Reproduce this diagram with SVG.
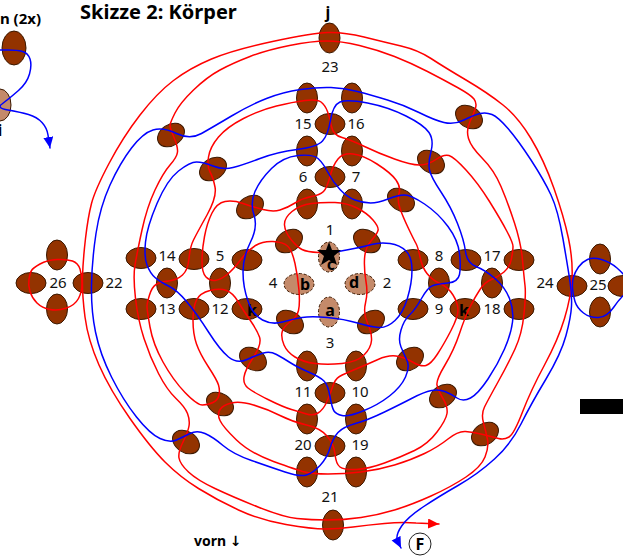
<svg xmlns="http://www.w3.org/2000/svg" width="623" height="557" viewBox="0 0 623 557">
<style>
.n{fill:#933300;stroke:#3a1800;stroke-width:1}
.l{fill:#c48a6a;stroke:#3a1800;stroke-width:1;stroke-dasharray:3 2}
.t{font-family:"Noto Sans","DejaVu Sans",sans-serif;font-size:15px;fill:#111;text-anchor:middle}
.b{font-family:"Noto Sans","DejaVu Sans",sans-serif;font-weight:700;font-size:16px;fill:#000;text-anchor:middle}
.w{fill:none;stroke-width:1.5;stroke-linejoin:round;stroke-linecap:round}
.r{stroke:#f00}
.u{stroke:#00f}
</style>
<defs>
<marker id="ar" markerUnits="userSpaceOnUse" markerWidth="12" markerHeight="11" refX="11" refY="5" orient="auto"><path d="M0 0L11 5L0 10z" fill="#f00"/></marker>
<marker id="au" markerUnits="userSpaceOnUse" markerWidth="12" markerHeight="11" refX="11" refY="5" orient="auto"><path d="M0 0L11 5L0 10z" fill="#00f"/></marker>
</defs>
<rect width="623" height="557" fill="#fff"/>
<rect x="580" y="399" width="43" height="15" fill="#000"/>
<text x="80" y="19" font-family="'Noto Sans',sans-serif" font-weight="700" font-size="20" fill="#000">Skizze 2: Körper</text>
<text x="41" y="24" font-family="'Noto Sans',sans-serif" font-weight="700" font-size="15" fill="#000" text-anchor="end">n (2x)</text>
<text x="194" y="546" font-family="'Noto Sans','DejaVu Sans',sans-serif" font-weight="700" font-size="14" fill="#000">vorn ↓</text>
<g id="node-F"><circle cx="420" cy="544" r="11" fill="#fff" stroke="#222"/><text x="420" y="550" class="b">F</text></g>
<g id="node-n"><ellipse class="n" cx="14" cy="48" rx="12" ry="17"/></g>
<g id="node-i"><ellipse class="l" cx="0" cy="105" rx="11" ry="16" style="stroke-dasharray:none"/><text x="0" y="136" class="b">i</text></g>
<g id="node-j"><ellipse class="n" cx="329.5" cy="38" rx="10.5" ry="15"/><text x="328" y="18" class="b">j</text></g>
<g id="node-23"><text x="330" y="72" class="t">23</text></g>
<g id="node-15"><ellipse class="n" cx="307" cy="98" rx="10.5" ry="15"/><text x="303" y="129" class="t">15</text></g>
<g id="node-16"><ellipse class="n" cx="352" cy="98" rx="10.5" ry="15"/><text x="356" y="129" class="t">16</text></g>
<g id="node-h1"><ellipse class="n" cx="330" cy="124" rx="15" ry="10.5"/></g>
<g id="node-6"><ellipse class="n" cx="307" cy="151" rx="10.5" ry="15"/><text x="303" y="182" class="t">6</text></g>
<g id="node-7"><ellipse class="n" cx="352" cy="151" rx="10.5" ry="15"/><text x="356" y="182" class="t">7</text></g>
<g id="node-h2"><ellipse class="n" cx="330" cy="177" rx="15" ry="10.5"/></g>
<g id="node-v1"><ellipse class="n" cx="307" cy="204" rx="10.5" ry="15"/></g>
<g id="node-v2"><ellipse class="n" cx="352" cy="204" rx="10.5" ry="15"/></g>
<g id="node-1"><text x="330" y="235" class="t">1</text></g>
<g id="node-c"><ellipse class="l" cx="329" cy="257" rx="10.5" ry="15"/><text x="331" y="270" class="b">c</text></g>
<g id="node-b"><ellipse class="l" cx="299" cy="284" rx="15" ry="10.5"/><text x="305" y="290" class="b">b</text></g>
<g id="node-d"><ellipse class="l" cx="360" cy="284" rx="15" ry="10.5"/><text x="354" y="288" class="b">d</text></g>
<g id="node-a"><ellipse class="l" cx="329" cy="312" rx="10.5" ry="15"/><text x="330" y="316" class="b">a</text></g>
<g id="node-2"><text x="387" y="288" class="t">2</text></g>
<g id="node-3"><text x="330" y="348" class="t">3</text></g>
<g id="node-4"><text x="273" y="288" class="t">4</text></g>
<g id="node-d1"><ellipse class="n" cx="289" cy="241" rx="14.5" ry="10.5" transform="rotate(-33 289 241)"/></g>
<g id="node-d2"><ellipse class="n" cx="367" cy="241" rx="14.5" ry="10.5" transform="rotate(33 367 241)"/></g>
<g id="node-d3"><ellipse class="n" cx="290" cy="322" rx="14.5" ry="10.5" transform="rotate(33 290 322)"/></g>
<g id="node-d4"><ellipse class="n" cx="371" cy="322" rx="14.5" ry="10.5" transform="rotate(-33 371 322)"/></g>
<g id="node-d5"><ellipse class="n" cx="171" cy="135" rx="14.5" ry="10.5" transform="rotate(-33 171 135)"/></g>
<g id="node-d6"><ellipse class="n" cx="213" cy="169" rx="14.5" ry="10.5" transform="rotate(-33 213 169)"/></g>
<g id="node-d7"><ellipse class="n" cx="250" cy="207" rx="14.5" ry="10.5" transform="rotate(-33 250 207)"/></g>
<g id="node-d8"><ellipse class="n" cx="469" cy="117" rx="14.5" ry="10.5" transform="rotate(33 469 117)"/></g>
<g id="node-d9"><ellipse class="n" cx="431" cy="162" rx="14.5" ry="10.5" transform="rotate(33 431 162)"/></g>
<g id="node-d10"><ellipse class="n" cx="401" cy="200" rx="14.5" ry="10.5" transform="rotate(33 401 200)"/></g>
<g id="node-d11"><ellipse class="n" cx="410" cy="359" rx="14.5" ry="10.5" transform="rotate(-33 410 359)"/></g>
<g id="node-d12"><ellipse class="n" cx="443" cy="396" rx="14.5" ry="10.5" transform="rotate(-33 443 396)"/></g>
<g id="node-d13"><ellipse class="n" cx="485" cy="434" rx="14.5" ry="10.5" transform="rotate(-33 485 434)"/></g>
<g id="node-d14"><ellipse class="n" cx="253" cy="359" rx="14.5" ry="10.5" transform="rotate(33 253 359)"/></g>
<g id="node-d15"><ellipse class="n" cx="220" cy="404" rx="14.5" ry="10.5" transform="rotate(33 220 404)"/></g>
<g id="node-d16"><ellipse class="n" cx="186" cy="442" rx="14.5" ry="10.5" transform="rotate(33 186 442)"/></g>
<g id="node-14"><ellipse class="n" cx="141" cy="258" rx="15" ry="10.5"/><text x="167" y="261" class="t">14</text></g>
<g id="node-5"><ellipse class="n" cx="194" cy="259" rx="15" ry="10.5"/><text x="220" y="261" class="t">5</text></g>
<g id="node-h3"><ellipse class="n" cx="247" cy="260" rx="15" ry="10.5"/></g>
<g id="node-8"><ellipse class="n" cx="413" cy="260" rx="15" ry="10.5"/><text x="439" y="261" class="t">8</text></g>
<g id="node-17"><ellipse class="n" cx="466" cy="260" rx="15" ry="10.5"/><text x="492" y="261" class="t">17</text></g>
<g id="node-h4"><ellipse class="n" cx="519" cy="260" rx="15" ry="10.5"/></g>
<g id="node-13"><ellipse class="n" cx="141" cy="309" rx="15" ry="10.5"/><text x="167" y="314" class="t">13</text></g>
<g id="node-12"><ellipse class="n" cx="194" cy="309" rx="15" ry="10.5"/><text x="220" y="314" class="t">12</text></g>
<g id="node-k1"><ellipse class="n" cx="247" cy="309" rx="15" ry="10.5"/><text x="252" y="316" class="b">k</text></g>
<g id="node-9"><ellipse class="n" cx="413" cy="309" rx="15" ry="10.5"/><text x="439" y="314" class="t">9</text></g>
<g id="node-k2"><ellipse class="n" cx="465" cy="309" rx="15" ry="10.5"/><text x="464" y="316" class="b">k</text></g>
<g id="node-18"><ellipse class="n" cx="519" cy="309" rx="15" ry="10.5"/><text x="492" y="314" class="t">18</text></g>
<g id="node-m1"><ellipse class="n" cx="167" cy="283" rx="10.5" ry="15"/></g>
<g id="node-m2"><ellipse class="n" cx="220" cy="283" rx="10.5" ry="15"/></g>
<g id="node-m3"><ellipse class="n" cx="439" cy="283" rx="10.5" ry="15"/></g>
<g id="node-m4"><ellipse class="n" cx="492" cy="283" rx="10.5" ry="15"/></g>
<g id="node-b1"><ellipse class="n" cx="307" cy="366" rx="10.5" ry="15"/></g>
<g id="node-10"><ellipse class="n" cx="356" cy="366" rx="10.5" ry="15"/><text x="360" y="397" class="t">10</text></g>
<g id="node-11"><ellipse class="n" cx="330" cy="393" rx="15" ry="10.5"/><text x="303" y="397" class="t">11</text></g>
<g id="node-b2"><ellipse class="n" cx="307" cy="419" rx="10.5" ry="15"/></g>
<g id="node-b3"><ellipse class="n" cx="356" cy="419" rx="10.5" ry="15"/></g>
<g id="node-20"><ellipse class="n" cx="330" cy="446" rx="15" ry="10.5"/><text x="303" y="450" class="t">20</text><text x="360" y="450" class="t">19</text></g>
<g id="node-b4"><ellipse class="n" cx="307" cy="472" rx="10.5" ry="15"/></g>
<g id="node-19"><ellipse class="n" cx="356" cy="472" rx="10.5" ry="15"/></g>
<g id="node-21"><ellipse class="n" cx="333" cy="525" rx="10.5" ry="15"/><text x="330" y="502" class="t">21</text></g>
<g id="node-22"><ellipse class="n" cx="88" cy="283" rx="15" ry="10.5"/><text x="114" y="288" class="t">22</text></g>
<g id="node-26"><ellipse class="n" cx="31" cy="283" rx="15" ry="10.5"/><ellipse class="n" cx="57" cy="255" rx="10.5" ry="15"/><ellipse class="n" cx="57" cy="309" rx="10.5" ry="15"/><text x="58" y="288" class="t">26</text></g>
<g id="node-24"><ellipse class="n" cx="572" cy="286" rx="15" ry="10.5"/><text x="545" y="288" class="t">24</text></g>
<g id="node-25"><ellipse class="n" cx="600" cy="259" rx="10.5" ry="15"/><ellipse class="n" cx="600" cy="312" rx="10.5" ry="15"/><ellipse class="n" cx="623" cy="286" rx="15" ry="10.5"/><text x="598" y="290" class="t">25</text></g>
<g id="connectors">
<path class="w r" marker-end="url(#ar)" d="M330 253L318.5 252.5Q307 252 302 249.5Q297 247 291 239.5Q285 232 284.5 225Q284 218 292 211.5Q300 205 311.5 203.5Q323 202 335 202.5Q347 203 357 208Q367 213 373 220Q379 227 378 230.5Q377 234 371 241Q365 248 364.5 259Q364 270 366 281.5Q368 293 365.5 303Q363 313 367.5 323Q372 333 371.5 340.5Q371 348 364 355Q357 362 342 363.5Q327 365 315 363.5Q303 362 295 357Q287 352 284 345Q281 338 282 332.5Q283 327 290 322Q297 317 298.5 310.5Q300 304 299 290.5Q298 277 295 263.5Q292 250 287.5 246Q283 242 273 241.5Q263 241 255.5 245.5Q248 250 240.5 260Q233 270 226.5 275Q220 280 215 280.5Q210 281 206 277Q202 273 202 261.5Q202 250 204.5 236.5Q207 223 212 213Q217 203 225 201.5Q233 200 243 203.5Q253 207 263 209.5Q273 212 280 210Q287 208 295 203Q303 198 311.5 196.5Q320 195 323.5 191.5Q327 188 330 176.5Q333 165 338 159Q343 153 353 154Q363 155 377 164Q391 173 396 180Q401 187 399 193.5Q397 200 400 208.5Q403 217 408.5 228.5Q414 240 416 243.5Q418 247 420 257Q422 267 427 273.5Q432 280 440 283.5Q448 287 453 295Q458 303 458 310Q458 317 451 330.5Q444 344 437.5 354Q431 364 426 365.5Q421 367 412.5 362Q404 357 396 356Q388 355 378 359.5Q368 364 356 369Q344 374 339.5 376.5Q335 379 332.5 387Q330 395 326.5 402.5Q323 410 318 413Q313 416 306.5 414Q300 412 291.5 409.5Q283 407 268 399.5Q253 392 248 388Q243 384 244 377Q245 370 253.5 357Q262 344 259.5 337Q257 330 250 320Q243 310 238 301.5Q233 293 226.5 290.5Q220 288 210 290.5Q200 293 196.5 300Q193 307 193 320.5Q193 334 196.5 344Q200 354 208.5 367Q217 380 218.5 385Q220 390 219 395Q218 400 213 402.5Q208 405 202.5 405Q197 405 185 392.5Q173 380 163 362Q153 344 150 327Q147 310 147 306.5Q147 303 149.5 295Q152 287 156 284.5Q160 282 168.5 281Q177 280 182.5 275Q188 270 189 258.5Q190 247 193.5 240Q197 233 207 215Q217 197 215 187Q213 177 210 172Q207 167 208.5 157Q210 147 218.5 137Q227 127 243.5 118.5Q260 110 276.5 106Q293 102 305 100.5Q317 99 321 102Q325 105 327.5 111.5Q330 118 331.5 126.5Q333 135 342 137.5Q351 140 364.5 146.5Q378 153 394.5 159Q411 165 419.5 165Q428 165 436 159.5Q444 154 449 155.5Q454 157 466 170Q478 183 489.5 201.5Q501 220 507 231.5Q513 243 513 246.5Q513 250 511.5 258.5Q510 267 504 272Q498 277 491.5 279.5Q485 282 480 289.5Q475 297 470 307Q465 317 459.5 333.5Q454 350 445 365Q436 380 437 385Q438 390 443 398.5Q448 407 447 413.5Q446 420 437 432Q428 444 414.5 450.5Q401 457 384.5 463Q368 469 356 469.5Q344 470 340 467Q336 464 335 454Q334 444 327 436Q320 428 306.5 425Q293 422 280 415.5Q267 409 253.5 405Q240 401 231.5 403Q223 405 220 409.5Q217 414 220 420.5Q223 427 236.5 440Q250 453 273.5 461.5Q297 470 304.5 472Q312 474 328 474Q344 474 361 472Q378 470 394.5 465Q411 460 424.5 453.5Q438 447 448 439Q458 431 465.5 431.5Q473 432 483 434.5Q493 437 498.5 438.5Q504 440 509 437Q514 434 522.5 412Q531 390 544.5 365Q558 340 564.5 318.5Q571 297 572 278.5Q573 260 568.5 238.5Q564 217 554 188.5Q544 160 531 138.5Q518 117 503 105Q488 93 466 80Q444 67 431 58.5Q418 50 401 46Q384 42 364 37Q344 32 328 32.5Q312 33 272.5 41.5Q233 50 211.5 59Q190 68 173.5 80.5Q157 93 140 115Q123 137 109 163.5Q95 190 91.5 203.5Q88 217 85.5 238.5Q83 260 82.5 277Q82 294 85 317Q88 340 99 365Q110 390 130 418.5Q150 447 165 462Q180 477 198.5 488.5Q217 500 238.5 510Q260 520 286 524.5Q312 529 325 529Q338 529 353 527Q368 525 384.5 523.5Q401 522 416 523L439 524"/>
<path class="w r" d="M170 125.5Q170 123 175 113Q180 103 193.5 90Q207 77 220 70Q233 63 250 56.5Q267 50 289.5 45.5Q312 41 326.5 41Q341 41 359.5 45.5Q378 50 394.5 56.5Q411 63 427.5 71.5Q444 80 457.5 87.5Q471 95 474 99Q477 103 475.5 108Q474 113 470 121.5Q466 130 468.5 138.5Q471 147 482.5 158.5Q494 170 501 186.5Q508 203 514.5 223Q521 243 522.5 260Q524 277 525 285.5Q526 294 524 314Q522 334 515 349Q508 364 498 382Q488 400 484.5 407Q481 414 483.5 423Q486 432 487.5 439.5Q489 447 485 457Q481 467 466 477Q451 487 431 496Q411 505 394.5 510Q378 515 361 517.5Q344 520 327.5 520Q311 520 297 518.5Q283 517 258 507Q233 497 215 488.5Q197 480 188.5 472Q180 464 179 458Q178 452 183 442Q188 432 189 426Q190 420 187.5 413.5Q185 407 176 398.5Q167 390 158.5 373.5Q150 357 144 338.5Q138 320 135.5 298.5Q133 277 135 265Q137 253 142 230Q147 207 155 190Q163 173 170 165Q177 157 177.5 152Q178 147 174 137.5Q170 128 170 125.5Z"/>
<path class="w r" d="M31.5 270.5Q33 268 40 264Q47 260 57 259.5Q67 259 72.5 261Q78 263 80 269Q82 275 82 283.5Q82 292 78.5 298.5Q75 305 66.5 308Q58 311 50 309.5Q42 308 37 303Q32 298 30 291.5Q28 285 29 279Q30 273 31.5 270.5Z"/>
<path class="w u" marker-end="url(#au)" d="M330 253L346.5 250Q363 247 371.5 244.5Q380 242 390 243.5Q400 245 406 251Q412 257 412 270Q412 283 407.5 298Q403 313 395 320.5Q387 328 379 327.5Q371 327 357.5 323Q344 319 327.5 317.5Q311 316 302 317.5Q293 319 282.5 322Q272 325 262.5 320Q253 315 248 301Q243 287 243 272Q243 257 250.5 242Q258 227 254 215Q250 203 255 191.5Q260 180 271.5 168.5Q283 157 298 155.5Q313 154 318 158.5Q323 163 328 172.5Q333 182 340 189.5Q347 197 355 200Q363 203 370.5 203Q378 203 388 199Q398 195 404.5 195Q411 195 424.5 204Q438 213 448 226.5Q458 240 459.5 253.5Q461 267 459.5 274.5Q458 282 448 283Q438 284 433 285.5Q428 287 421.5 298.5Q415 310 409.5 315Q404 320 401 330Q398 340 401 347Q404 354 407 360.5Q410 367 405.5 377Q401 387 389.5 396Q378 405 363 411Q348 417 342 415.5Q336 414 334 411Q332 408 330 396.5Q328 385 324 381Q320 377 308.5 372Q297 367 290 362.5Q283 358 276.5 354.5Q270 351 263.5 353Q257 355 247 359.5Q237 364 228.5 357Q220 350 208.5 332Q197 314 187 302Q177 290 168.5 286Q160 282 155 277.5Q150 273 147 265Q144 257 145.5 242Q147 227 157 203.5Q167 180 178.5 171Q190 162 196.5 162Q203 162 213 166Q223 170 233 167.5Q243 165 260 158.5Q277 152 297 149.5Q317 147 322.5 141Q328 135 330.5 120Q333 105 340 102Q347 99 367.5 103Q388 107 406 116Q424 125 429 132.5Q434 140 431 151.5Q428 163 429.5 170Q431 177 441 192Q451 207 457.5 223.5Q464 240 465.5 251.5Q467 263 476 266.5Q485 270 495 278.5Q505 287 509.5 298.5Q514 310 512.5 322Q511 334 504.5 349Q498 364 488 379Q478 394 470.5 398Q463 402 457 398Q451 394 445 391.5Q439 389 431.5 390.5Q424 392 412.5 398Q401 404 384.5 412Q368 420 355.5 423.5Q343 427 338 432.5Q333 438 330 448Q327 458 320 465.5Q313 473 306.5 475Q300 477 285 472Q270 467 251.5 460.5Q233 454 223 445.5Q213 437 205 433.5Q197 430 190 433.5Q183 437 176.5 440Q170 443 160 438.5Q150 434 136.5 417Q123 400 111.5 377Q100 354 95.5 332Q91 310 91.5 285Q92 260 96 233.5Q100 207 110 185Q120 163 131.5 148Q143 133 153 130Q163 127 176.5 133.5Q190 140 201.5 133.5Q213 127 231.5 116Q250 105 266.5 98.5Q283 92 300.5 89.5Q318 87 331 87.5Q344 88 357.5 91.5Q371 95 387.5 100Q404 105 419 112.5Q434 120 444 122.5Q454 125 464 120Q474 115 480 113.5Q486 112 492 114.5Q498 117 508 128.5Q518 140 531 160Q544 180 551 195Q558 210 563 239Q568 268 570 281.5Q572 295 571.5 306Q571 317 566 335.5Q561 354 546 379Q531 404 521 424Q511 444 494.5 459Q478 474 458 485.5Q438 497 423 507Q408 517 402 525.5Q396 534 397 540L401 548"/>
<path class="w u" d="M573.5 277Q575 272 578.5 267Q582 262 587.5 259.5Q593 257 601.5 259.5Q610 262 617 268Q624 274 628 281Q632 288 626 293Q620 298 613.5 307.5Q607 317 598.5 317.5Q590 318 583.5 313Q577 308 575 301.5Q573 295 572.5 288.5Q572 282 573.5 277Z"/>
<path class="w u" marker-end="url(#au)" d="M-5 50L8 50Q17 50 22.5 51.5Q28 53 30 59Q32 65 29.5 74Q27 83 18.5 90.5Q10 98 2 104Q-4 108 8 110Q20 112 28.5 114.5Q37 117 42 122.5Q47 128 48 135L50 148"/>
</g>
<g id="star"><polygon points="329,242 332,250 341,250 334,256 337,265 329,260 321,265 324,256 317,250 326,250" fill="#000"/></g>
</svg>
